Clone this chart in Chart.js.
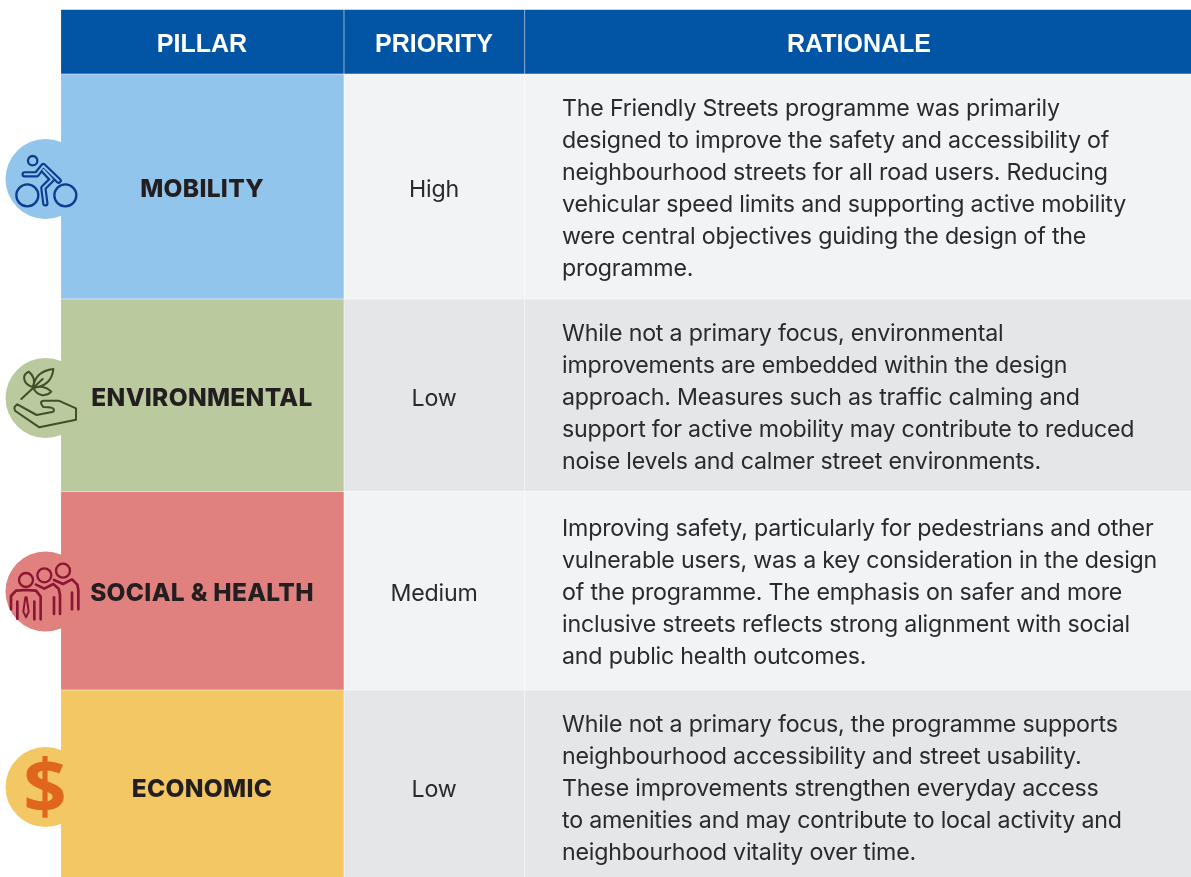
<!DOCTYPE html>
<html>
<head>
<meta charset="utf-8">
<title>Pillar priority table</title>
<script src="https://cdn.jsdelivr.net/npm/chart.js@4"></script>
<style>
  html, body { margin: 0; padding: 0; background: #fff; }
  canvas { display: block; }
</style>
</head>
<body>
<canvas id="tableChart" width="1191" height="877"></canvas>
<script>
const headers = ["PILLAR", "PRIORITY", "RATIONALE"];
const pillars = ["MOBILITY", "ENVIRONMENTAL", "SOCIAL & HEALTH", "ECONOMIC"];
const priorities = ["High", "Low", "Medium", "Low"];
const rationale = [
  ["The Friendly Streets programme was primarily",
   "designed to improve the safety and accessibility of",
   "neighbourhood streets for all road users. Reducing",
   "vehicular speed limits and supporting active mobility",
   "were central objectives guiding the design of the",
   "programme."],
  ["While not a primary focus, environmental",
   "improvements are embedded within the design",
   "approach. Measures such as traffic calming and",
   "support for active mobility may contribute to reduced",
   "noise levels and calmer street environments."],
  ["Improving safety, particularly for pedestrians and other",
   "vulnerable users, was a key consideration in the design",
   "of the programme. The emphasis on safer and more",
   "inclusive streets reflects strong alignment with social",
   "and public health outcomes."],
  ["While not a primary focus, the programme supports",
   "neighbourhood accessibility and street usability.",
   "These improvements strengthen everyday access",
   "to amenities and may contribute to local activity and",
   "neighbourhood vitality over time."]
];

// layout, in scale units (the scales run 1:1 with the canvas)
const rowEdges = [10, 74.5, 299.5, 492, 690.5, 878];
const colEdges = [61.4, 344.6, 525.4, 1192.2];
const gap = 1.2;
const iconX = 45.5;
const iconY = [179, 398, 591.5, 787];
const textX = 562;
const firstLine = [109.5, 334.5, 529.5, 725.5];
const labelMid = [190, 399, 594, 790];

const headBlue = "#0255a5";
const pillarColors = ["#92c5eb", "#bac99e", "#e0807f", "#f3c864"];
const plainColors = ["#f2f3f5", "#e5e6e8", "#f2f3f5", "#e5e6e8"];
const inkColors = ["#0b3e91", "#3f4f28", "#8a1632", "#e0661c"];
const textColor = "#2a2a2c";
const bodyFont = "Inter, sans-serif";
const headFont = "'Liberation Sans', sans-serif";

function cellData(col) {
  const x = (colEdges[col] + colEdges[col + 1] - gap) / 2;
  return rowEdges.slice(0, -1).map((top, i) => ({ x: x, y: [top, rowEdges[i + 1] - gap] }));
}

function columnDataset(col, colors) {
  return {
    type: "bar",
    data: cellData(col),
    grouped: false,
    barThickness: colEdges[col + 1] - colEdges[col] - gap,
    backgroundColor: [headBlue].concat(colors),
    borderWidth: 0,
    order: 1
  };
}

function stroke(ctx, color, width, pts) {
  ctx.strokeStyle = color;
  ctx.lineWidth = width;
  ctx.beginPath();
  pts.forEach((p, i) => (i == 0 ? ctx.moveTo(p[0], p[1]) : ctx.lineTo(p[0], p[1])));
  ctx.stroke();
}

function ring(ctx, color, width, x, y, r) {
  ctx.strokeStyle = color;
  ctx.lineWidth = width;
  ctx.beginPath();
  ctx.arc(x, y, r, 0, Math.PI * 2);
  ctx.stroke();
}

function drawBike(ctx, color, fill) {
  ctx.save();
  ctx.translate(0, 120);
  ctx.scale(1 / 3, 1 / 3);
  ctx.lineCap = "round";
  ctx.lineJoin = "round";
  ring(ctx, color, 7, 82, 226, 33);
  ring(ctx, color, 7, 196, 226, 33);
  ring(ctx, color, 7, 98, 122, 14);
  const arm = [[74, 163], [110, 163], [130, 138], [176, 182]];
  const leg = [[130, 150], [156, 178], [130, 204], [136, 250]];
  stroke(ctx, color, 19, arm);
  stroke(ctx, color, 19, leg);
  stroke(ctx, fill, 6, arm);
  stroke(ctx, fill, 6, leg);
  ctx.restore();
}

function drawLeaf(ctx, color) {
  ctx.save();
  ctx.translate(0, 345);
  ctx.scale(1 / 3, 1 / 3);
  ctx.lineCap = "round";
  ctx.lineJoin = "round";
  ctx.strokeStyle = color;
  ctx.lineWidth = 6;
  ctx.beginPath();
  ctx.moveTo(64, 162);
  ctx.lineTo(128, 102);
  ctx.moveTo(98, 126);
  ctx.bezierCurveTo(72, 118, 62, 92, 86, 80);
  ctx.bezierCurveTo(102, 92, 106, 108, 98, 126);
  ctx.moveTo(100, 126);
  ctx.bezierCurveTo(104, 92, 128, 76, 160, 72);
  ctx.bezierCurveTo(158, 100, 140, 122, 112, 126);
  ctx.moveTo(100, 130);
  ctx.bezierCurveTo(118, 120, 140, 126, 154, 140);
  ctx.bezierCurveTo(136, 158, 112, 152, 100, 130);
  ctx.moveTo(52, 178);
  ctx.lineTo(110, 210);
  ctx.lineTo(160, 200);
  ctx.quadraticCurveTo(170, 186, 130, 186);
  ctx.quadraticCurveTo(116, 170, 130, 167);
  ctx.lineTo(176, 167);
  ctx.lineTo(228, 190);
  ctx.lineTo(228, 224);
  ctx.lineTo(118, 247);
  ctx.lineTo(46, 198);
  ctx.quadraticCurveTo(38, 186, 52, 178);
  ctx.stroke();
  ctx.restore();
}

function drawPeople(ctx, color) {
  ctx.save();
  ctx.translate(0, 540);
  ctx.scale(1 / 3, 1 / 3);
  ctx.lineCap = "round";
  ctx.lineJoin = "round";
  ring(ctx, color, 7, 78, 120, 21);
  ring(ctx, color, 7, 133, 106, 21);
  ring(ctx, color, 7, 189, 92, 21);
  stroke(ctx, color, 8, [[33, 208], [33, 168], [48, 152], [78, 150], [108, 152], [122, 170], [122, 238]]);
  stroke(ctx, color, 8, [[52, 185], [52, 236]]);
  stroke(ctx, color, 8, [[103, 185], [103, 238]]);
  stroke(ctx, color, 6, [[76, 172], [70, 215], [78, 232], [86, 215], [80, 172], [76, 172]]);
  stroke(ctx, color, 8, [[108, 134], [133, 146], [160, 132], [176, 146], [180, 165], [180, 222]]);
  stroke(ctx, color, 8, [[162, 172], [162, 222]]);
  stroke(ctx, color, 8, [[162, 120], [189, 132], [216, 118], [232, 134], [235, 150], [235, 208]]);
  stroke(ctx, color, 8, [[216, 158], [216, 208]]);
  ctx.restore();
}

const tableText = {
  id: "tableText",
  afterDatasetsDraw(chart) {
    const ctx = chart.ctx;
    const x = chart.scales.x;
    const y = chart.scales.y;
    ctx.save();
    ctx.textBaseline = "middle";

    ctx.textAlign = "center";
    ctx.fillStyle = "#ffffff";
    ctx.font = "bold 25px " + headFont;
    headers.forEach((h, i) => {
      const cx = i == 0 ? 202 : i == 1 ? 434 : 859;
      ctx.fillText(h, x.getPixelForValue(cx), y.getPixelForValue(45));
    });

    pillars.forEach((name, i) => {
      ctx.fillStyle = "#231f20";
      ctx.font = "800 24.5px Inter, sans-serif";
      ctx.letterSpacing = "0.3px";
      ctx.fillText(name, x.getPixelForValue(202), y.getPixelForValue(labelMid[i]));
      ctx.letterSpacing = "-0.2px";
      ctx.fillStyle = textColor;
      ctx.font = "23.2px " + bodyFont;
      ctx.fillText(priorities[i], x.getPixelForValue(434), y.getPixelForValue(labelMid[i]));
    });

    ctx.textAlign = "left";
    ctx.font = "23.2px " + bodyFont;
    rationale.forEach((lines, i) => {
      lines.forEach((line, j) => {
        ctx.fillText(line, x.getPixelForValue(textX), y.getPixelForValue(firstLine[i] + j * 32));
      });
    });
    ctx.letterSpacing = "0px";

    drawBike(ctx, inkColors[0], pillarColors[0]);
    drawLeaf(ctx, inkColors[1]);
    drawPeople(ctx, inkColors[2]);
    ctx.fillStyle = inkColors[3];
    ctx.textAlign = "center";
    ctx.font = "bold 76px 'Open Sans', sans-serif";
    ctx.fillText("$", x.getPixelForValue(45), y.getPixelForValue(iconY[3] + 4));
    ctx.restore();
  }
};

new Chart(document.getElementById("tableChart"), {
  data: {
    datasets: [
      {
        type: "scatter",
        data: iconY.map((v) => ({ x: iconX, y: v })),
        pointRadius: 40,
        pointHoverRadius: 40,
        pointBorderWidth: 0,
        backgroundColor: pillarColors,
        clip: false,
        order: 2
      },
      columnDataset(0, pillarColors),
      columnDataset(1, plainColors),
      columnDataset(2, plainColors)
    ]
  },
  options: {
    responsive: false,
    animation: false,
    layout: { padding: 0, autoPadding: false },
    plugins: { legend: { display: false }, tooltip: { enabled: false } },
    scales: {
      x: { type: "linear", min: 0, max: 1191, offset: false, display: false },
      y: { type: "linear", min: 0, max: 877, offset: false, reverse: true, display: false }
    }
  },
  plugins: [tableText]
});
</script>
</body>
</html>
